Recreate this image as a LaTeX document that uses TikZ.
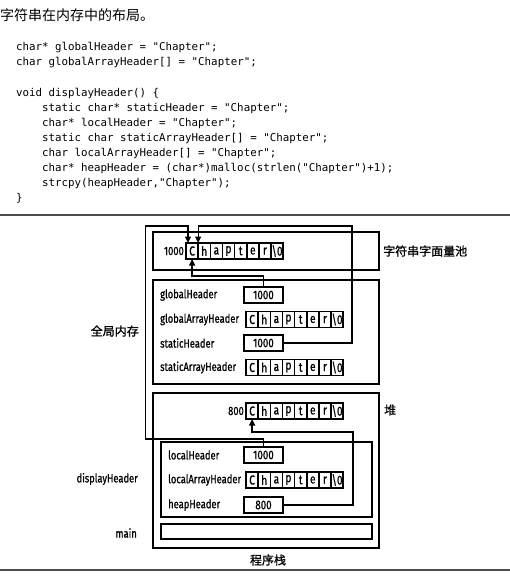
\documentclass[tikz,border=0pt]{standalone}
\usepackage{fontspec}
\setmonofont{DejaVu Sans Mono}
\newfontfamily\cjk{Noto Sans CJK SC}
\newfontfamily\cjkb[FakeBold=1]{Noto Sans CJK SC}
\newfontfamily\cond[FakeStretch=0.78,FakeBold=0.8]{Fira Sans}
\usetikzlibrary{arrows.meta,calc}
\newcommand\strarr[3]{%
  \foreach \ch [count=\i] in {C,h,a,p,t,e,r,\textbackslash 0}
    \node[cell] (#1-\i) at ({#2+(\i-1)*12.15},#3) {\ch};%
}
\begin{document}
\begin{tikzpicture}[x=1pt,y=-1pt,
  code/.style={anchor=base west, inner sep=0, font=\ttfamily\fontsize{10.8}{12}\selectfont},
  lbl/.style={inner sep=0, font=\cond\fontsize{12}{13}\selectfont},
  cjklbl/.style={inner sep=0, font=\cjkb\fontsize{12}{14}\selectfont},
  cell/.style={draw, line width=1.5pt, minimum width=12.15pt, minimum height=16pt, inner sep=0, outer sep=0, anchor=west, font=\cond\fontsize{13}{14}\selectfont},
  ptr/.style={draw, line width=1.5pt, minimum width=39pt, minimum height=16pt, inner sep=0, outer sep=0, anchor=west, font=\cond\fontsize{12.5}{14}\selectfont},
  region/.style={draw, line width=1.6pt, anchor=north west, inner sep=0, outer sep=0},
  link/.style={line width=1.2pt, -{Triangle[length=6.5pt,width=6pt]}},
  rule/.style={line width=2pt, black!70}
]
\useasboundingbox (0,0) rectangle (510,578);

% title
\node[anchor=west, inner sep=0, font=\cjk\fontsize{14}{16}\selectfont] (title) at (0,15) {字符串在内存中的布局。};

% code
\node[code] (c1) at (16,51) {char* globalHeader = "Chapter";};
\node[code] (c2) at (16,66) {char globalArrayHeader[] = "Chapter";};
\node[code] (c3) at (16,96) {void displayHeader() \{};
\node[code] (c4) at (42,111.5) {static char* staticHeader = "Chapter";};
\node[code] (c5) at (42,126) {char* localHeader = "Chapter";};
\node[code] (c6) at (42,141) {static char staticArrayHeader[] = "Chapter";};
\node[code] (c7) at (42,156) {char localArrayHeader[] = "Chapter";};
\node[code] (c8) at (42,171) {char* heapHeader = (char*)malloc(strlen("Chapter")+1);};
\node[code] (c9) at (42,186) {strcpy(heapHeader,"Chapter");};
\node[code] (c10) at (16,201) {\}};

% rules
\draw[rule] (0,215) -- (510,215);
\draw[rule] (0,570) -- (510,570);

% regions
\node[region, minimum width=226pt, minimum height=38pt] (poolbox) at (153,232) {};
\node[region, minimum width=226pt, minimum height=104pt] (globalbox) at (153,280) {};
\node[region, minimum width=226pt, minimum height=155pt] (heapbox) at (153,393) {};
\node[region, minimum width=211pt, minimum height=75pt] (stackbox) at (161,442) {};
\node[region, minimum width=211pt, minimum height=15pt] (mainbox) at (161,524) {};

% region labels
\node[cjklbl, anchor=west] (poollbl) at (383,251) {字符串字面量池};
\node[cjklbl, anchor=west] (heaplbl) at (384,410) {堆};
\node[cjklbl, anchor=east] (globallbl) at (139,331) {全局内存};
\node[cjklbl] (stacklbl) at (268,560) {程序栈};
\node[lbl, anchor=east] (dhlbl) at (138,479) {displayHeader};
\node[lbl, anchor=east] (mainlbl) at (137,533) {main};

% literal pool
\strarr{pool}{186}{251}
\node[lbl, anchor=east] (pooladdr) at ($(pool-1.west)+(-2,0)$) {1000};

% global memory
\node[lbl, anchor=west] (ghl) at (160,295) {globalHeader};
\node[ptr] (gh) at (244,295) {1000};
\node[lbl, anchor=west] (gahl) at (160,319.5) {globalArrayHeader};
\strarr{gah}{246}{319.5}
\node[lbl, anchor=west] (shl) at (160,343) {staticHeader};
\node[ptr] (sh) at (244,343) {1000};
\node[lbl, anchor=west] (sahl) at (160,367.5) {staticArrayHeader};
\strarr{sah}{246}{367.5}

% heap
\strarr{hp}{246}{411}
\node[lbl, anchor=east] (heapaddr) at ($(hp-1.west)+(-2,0)$) {800};

% stack
\node[lbl, anchor=west] (lhl) at (168,455) {localHeader};
\node[ptr] (lh) at (244,455) {1000};
\node[lbl, anchor=west] (lahl) at (168,480) {localArrayHeader};
\strarr{lah}{246}{480}
\node[lbl, anchor=west] (hhl) at (168,505) {heapHeader};
\node[ptr] (hh) at (244,505) {800};

% connectors
\draw[link] (gh.north) -- ++(0,-11) -| (pool-1.south);
\draw[link] (sh.east) -- ++(69,0) -- ++(0,-117) -| (pool-1.north east);
\draw[link] (lh.north) -- ++(0,-8) -- ++(-118,0) -- ++(0,-213) -| ($(pool-1.north west)+(2,0)$);
\draw[link] (hh.east) -- ++(70,0) -- ++(0,-73) -| (hp-1.south);
\end{tikzpicture}
\end{document}
